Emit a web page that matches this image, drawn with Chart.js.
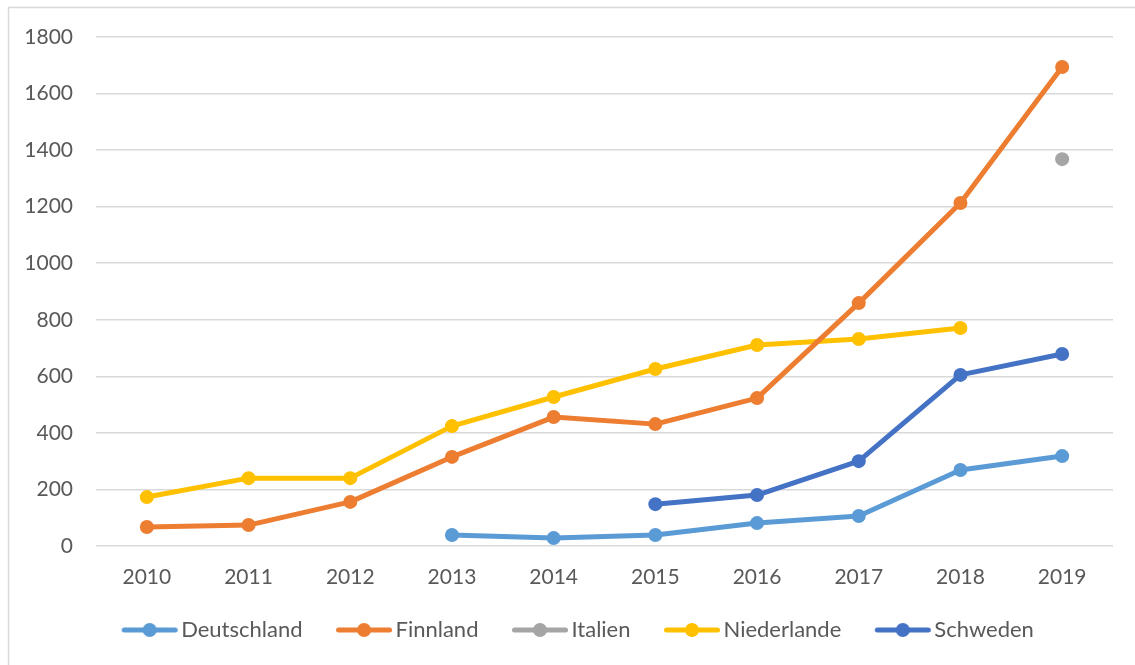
<!DOCTYPE html>
<html>
<head>
<meta charset="utf-8">
<script src="https://cdn.jsdelivr.net/npm/chart.js@4.4.1/dist/chart.umd.min.js"></script>
<style>
html,body{margin:0;padding:0;background:#fff;}
#wrap{position:relative;width:1135px;height:665px;}
</style>
</head>
<body>
<div id="wrap"><canvas id="c" width="1135" height="665"></canvas></div>
<script>
const years = ['2010','2011','2012','2013','2014','2015','2016','2017','2018','2019'];
const deutschland = [null, null, null, 39, 28, 39, 81, 106, 269, 318];
const finnland    = [67, 74, 156, 315, 456, 431, 523, 859, 1213, 1694];
const italien     = [null, null, null, null, null, null, null, null, null, 1368];
const niederlande = [173, 240, 240, 424, 527, 626, 711, 732, 771, null];
const schweden    = [null, null, null, null, null, 148, 180, 300, 605, 679];
const seriesNames = ['Deutschland','Finnland','Italien','Niederlande','Schweden'];
const seriesColors = ['#5B9BD5','#ED7D31','#A5A5A5','#FFC000','#4472C4'];
const yTicks = [0,200,400,600,800,1000,1200,1400,1600,1800];

const FONT = "Lato, 'Open Sans', sans-serif";
const TXT = '#595959';

function legendIcon(color){
  const c = document.createElement('canvas');
  c.width = 90; c.height = 16;
  const g = c.getContext('2d');
  const o = 30.5;
  g.strokeStyle = color; g.lineWidth = 5; g.lineCap = 'round';
  g.beginPath(); g.moveTo(o + 3, 8); g.lineTo(o + 54, 8); g.stroke();
  g.fillStyle = color; g.beginPath(); g.arc(o + 28.5, 8, 7, 0, Math.PI*2); g.fill();
  return c;
}

const allData = [deutschland, finnland, italien, niederlande, schweden];
const datasets = allData.map((d, i) => ({
  label: seriesNames[i],
  data: d,
  borderColor: seriesColors[i],
  backgroundColor: seriesColors[i],
  borderWidth: 5,
  pointRadius: 7,
  pointHoverRadius: 7,
  pointBorderWidth: 0,
  pointBackgroundColor: seriesColors[i],
  tension: 0,
  spanGaps: false,
  borderCapStyle: 'round',
  borderJoinStyle: 'round',
  fill: false,
  pointStyle: 'circle',
  legendIcon: legendIcon(seriesColors[i])
}));

const borderPlugin = {
  id: 'outerBorder',
  beforeDraw(chart){
    const g = chart.ctx;
    g.save();
    g.strokeStyle = '#D9D9D9';
    g.lineWidth = 1.5;
    g.strokeRect(8.5, 7.5, 1400, 1000);
    g.restore();
  }
};

new Chart(document.getElementById('c'), {
  type: 'line',
  data: { labels: years, datasets },
  plugins: [borderPlugin],
  options: {
    responsive: false,
    animation: false,
    events: [],
    layout: { padding: { left: 0, right: 0, top: 37, bottom: 14 } },
    plugins: {
      tooltip: { enabled: false },
      legend: {
        position: 'bottom',
        align: 'center',
        labels: {
          usePointStyle: true,
          pointStyleWidth: 69,
          boxHeight: 16,
          padding: 13,
          color: TXT,
          font: { family: FONT, size: 22 },
          generateLabels(chart){
            return chart.data.datasets.map((ds, i) => ({
              text: ds.label,
              pointStyle: ds.legendIcon,
              fillStyle: ds.borderColor,
              strokeStyle: ds.borderColor,
              lineWidth: 0,
              fontColor: TXT,
              hidden: false,
              datasetIndex: i
            }));
          }
        }
      }
    },
    scales: {
      x: {
        offset: true,
        grid: { display: false, drawTicks: false, offset: true },
        border: { display: false },
        ticks: { color: TXT, font: { family: FONT, size: 21 }, padding: 19, maxRotation: 0 },
        afterFit(s){ s.height = 60; }
      },
      y: {
        min: 0, max: 1800,
        afterBuildTicks(s){ s.ticks = yTicks.map(v => ({ value: v })); },
        grid: { color: '#D9D9D9', lineWidth: 1.5, drawTicks: false },
        border: { display: false },
        ticks: { color: TXT, font: { family: FONT, size: 21 }, padding: 23, callback: v => String(v) },
        afterFit(s){ s.width = 96; }
      },
      y2: {
        position: 'right',
        display: true,
        grid: { display: false, drawTicks: false },
        border: { display: false },
        ticks: { display: false },
        afterFit(s){ s.width = 22; }
      }
    }
  }
});
</script>
</body>
</html>
